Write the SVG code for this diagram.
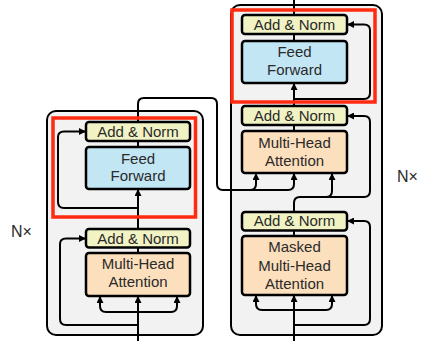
<svg xmlns="http://www.w3.org/2000/svg" width="428" height="341" viewBox="0 0 428 341">
<defs>
<marker id="ah" markerWidth="7" markerHeight="7" refX="6" refY="3.5" orient="auto" markerUnits="userSpaceOnUse">
<path d="M0,0 L7,3.5 L0,7 Z" fill="#000"/>
</marker>
<style>
.stack{fill:#f2f2f2;stroke:#000;stroke-width:2}
.an{fill:#f2f3c4;stroke:#000;stroke-width:2.5}
.ff{fill:#c3e6f5;stroke:#000;stroke-width:2.5}
.mha{fill:#fcdfbd;stroke:#000;stroke-width:2.5}
.red{fill:none;stroke:#ff2a10;stroke-width:3.5}
.c{fill:none;stroke:#000;stroke-width:2}
.a{fill:none;stroke:#000;stroke-width:2;marker-end:url(#ah)}
text{font-family:"Liberation Sans",Arial,sans-serif;font-size:15px;fill:#2a2a2a;text-anchor:middle}
.nx{text-anchor:start;font-size:16px}
</style>
</defs>
<rect width="428" height="341" fill="#fff"/>
<g id="encoder-stack"><rect class="stack" x="47" y="111" width="156" height="224" rx="9"/></g>
<g id="decoder-stack"><rect class="stack" x="231" y="5" width="151" height="330" rx="9"/></g>
<g id="connectors">
<path class="a" d="M138 341 V297"/>
<path class="a" d="M138 312 H106 Q100 312 100 306 V297"/>
<path class="a" d="M138 312 H171 Q177 312 177 306 V297"/>
<path class="a" d="M138 325 H66 Q60 325 60 319 V244 Q60 238.5 66 238.5 H85"/>
<path class="c" d="M138 253 V247"/>
<path class="a" d="M138 229 V190"/>
<path class="a" d="M138 208 H64 Q58 208 58 202 V137 Q58 131.5 64 131.5 H85"/>
<path class="c" d="M138 147 V141"/>
<path class="c" d="M138 122 V104 Q138 98 144 98 H211 Q217 98 217 104 V184 Q217 190 223 190 H250 Q256 190 256 184 V174"/>
<path class="a" d="M256 184 V174"/>
<path class="a" d="M250 190 H288 Q294 190 294 184 V174"/>
<path class="a" d="M294 341 V296"/>
<path class="a" d="M294 310 H262 Q256 310 256 304 V296"/>
<path class="a" d="M294 310 H326 Q332 310 332 304 V296"/>
<path class="a" d="M294 325 H364 Q370 325 370 319 V227 Q370 221 364 221 H348"/>
<path class="c" d="M294 236 V230"/>
<path class="a" d="M294 212 V203 Q294 197 300 197 H326 Q332 197 332 191 V174"/>
<path class="a" d="M326 197 H364 Q370 197 370 191 V122 Q370 116 364 116 H348"/>
<path class="c" d="M294 131 V125"/>
<path class="a" d="M294 106 V84"/>
<path class="a" d="M294 99 H364 Q370 99 370 93 V30 Q370 24.5 364 24.5 H348"/>
<path class="c" d="M294 41 V34"/>
<path class="c" d="M294 15 V0"/>
</g>
<g id="enc-mha"><rect class="mha" x="86" y="253" width="104" height="43" rx="3"/><text x="138" y="269">Multi-Head</text><text x="138" y="287">Attention</text></g>
<g id="enc-addnorm1"><rect class="an" x="86" y="229" width="104" height="18.5" rx="3"/><text x="138" y="243.5">Add &amp; Norm</text></g>
<g id="enc-ff"><rect class="ff" x="86" y="147" width="104" height="42" rx="3"/><text x="138" y="163.5">Feed</text><text x="138" y="181">Forward</text></g>
<g id="enc-addnorm2"><rect class="an" x="86" y="122" width="104" height="19" rx="3"/><text x="138" y="137">Add &amp; Norm</text></g>
<g id="dec-mmha"><rect class="mha" x="242" y="236" width="105" height="59" rx="3"/><text x="294.5" y="251.5">Masked</text><text x="294.5" y="270.5">Multi-Head</text><text x="294.5" y="289">Attention</text></g>
<g id="dec-addnorm1"><rect class="an" x="242" y="212" width="105" height="18.5" rx="3"/><text x="294.5" y="226">Add &amp; Norm</text></g>
<g id="dec-mha"><rect class="mha" x="242" y="131" width="105" height="42" rx="3"/><text x="294.5" y="147.5">Multi-Head</text><text x="294.5" y="166">Attention</text></g>
<g id="dec-addnorm2"><rect class="an" x="242" y="106" width="105" height="19" rx="3"/><text x="294.5" y="120.5">Add &amp; Norm</text></g>
<g id="dec-ff"><rect class="ff" x="242" y="41" width="105" height="42" rx="3"/><text x="294.5" y="57">Feed</text><text x="294.5" y="75">Forward</text></g>
<g id="dec-addnorm3"><rect class="an" x="242" y="15" width="105" height="19" rx="3"/><text x="294.5" y="30">Add &amp; Norm</text></g>
<g id="labels"><text class="nx" x="11" y="237">N×</text><text class="nx" x="397" y="182">N×</text></g>
<g id="highlights"><rect class="red" x="53" y="118" width="142.5" height="99"/><rect class="red" x="232" y="10" width="143" height="92"/></g>
</svg>
